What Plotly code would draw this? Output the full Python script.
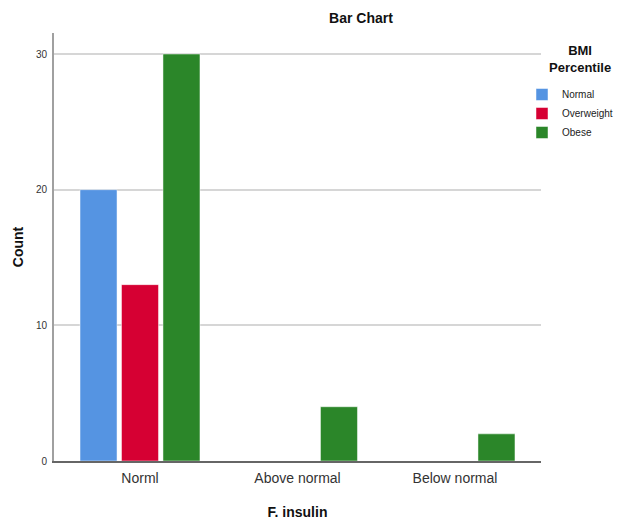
import plotly.graph_objects as go

categories = ["Norml", "Above normal", "Below normal"]
series_names = ["Normal", "Overweight", "Obese"]
normal_counts = [20, 0, 0]
overweight_counts = [13, 0, 0]
obese_counts = [30, 4, 2]
colors = ["#5594E2", "#D60033", "#2B8629"]
y_ticks = [0, 10, 20, 30]

FONT = "Liberation Sans, Arial, sans-serif"

W, H = 614, 516  # page body has 8px margin
L, T, R_EDGE, B_EDGE = 46, 25, 533, 453
PW, PH = R_EDGE - L, B_EDGE - T

fig = go.Figure()
for name, vals, col in zip(series_names, [normal_counts, overweight_counts, obese_counts], colors):
    fig.add_trace(go.Bar(
        name=name, x=list(range(len(categories))), y=vals,
        marker=dict(color=col, line=dict(width=0.8, color="rgba(255,255,255,0.6)")),
    ))

fig.update_layout(
    width=W, height=H,
    margin=dict(l=L, r=W - R_EDGE, t=T, b=H - B_EDGE, autoexpand=False),
    paper_bgcolor="white", plot_bgcolor="white",
    barmode="group", bargap=0.21, bargroupgap=0.108,
    font=dict(family=FONT, color="#222"),
    title=dict(text="<b>Bar Chart</b>", x=(353 - L) / PW, xref="paper", xanchor="center",
               y=1 - 10 / H, yref="container", yanchor="middle",
               font=dict(size=14, family=FONT, color="#111")),
    xaxis=dict(
        tickmode="array", tickvals=list(range(len(categories))), ticktext=categories,
        range=[-0.546, 2.546], showline=True, linecolor="#666", linewidth=1.5,
        showgrid=False, zeroline=False, ticks="",
        tickfont=dict(size=14, family=FONT, color="#333"), ticklabelstandoff=3,
        title=dict(text="<b>F. insulin</b>", font=dict(size=14, family=FONT, color="#111"), standoff=23),
    ),
    yaxis=dict(
        tickmode="array", tickvals=y_ticks, range=[0, 31.55],
        showline=True, linecolor="#A0A0A0", linewidth=2,
        showgrid=True, gridcolor="#D6D6D6", gridwidth=1.5, zeroline=False, ticks="",
        tickfont=dict(size=10, family=FONT, color="#333"), ticklabelstandoff=3,
        title=dict(text="<b>Count</b>", font=dict(size=14, family=FONT, color="#111"), standoff=9),
    ),
    legend=dict(
        x=(514 - L) / PW, xanchor="left", y=1 - (72 - T) / PH, yanchor="top", yref="paper",
        font=dict(size=10, family=FONT, color="#222"),
        itemwidth=30, tracegroupgap=0, bgcolor="rgba(0,0,0,0)",
    ),
    annotations=[dict(
        text="<b>BMI<br>Percentile</b>", xref="paper", yref="paper",
        x=(572 - L) / PW, y=1 - (50.5 - T) / PH, xanchor="center", yanchor="middle",
        showarrow=False, font=dict(size=13, family=FONT, color="#111"), align="center",
    )],
)

fig.write_html("out.html")
